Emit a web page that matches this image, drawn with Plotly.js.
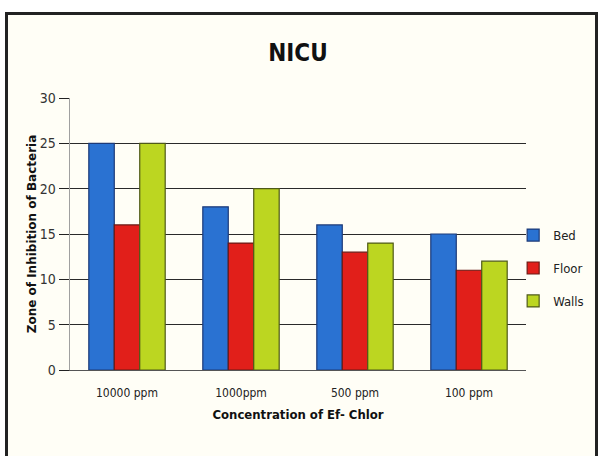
<!DOCTYPE html>
<html>
<head>
<meta charset="utf-8">
<script src="https://cdn.plot.ly/plotly-3.0.1.min.js"></script>
<style>
  html, body { margin: 0; padding: 0; background: #ffffff; width: 603px; height: 456px; overflow: hidden; }
  #frame { position: absolute; left: 5px; top: 12px; width: 593px; height: 460px; border: 3px solid #222; background: #fffef6; box-sizing: border-box; }
  #chart { position: absolute; left: 0; top: 0; width: 603px; height: 456px; }
</style>
</head>
<body>
<div id="frame"></div>
<div id="chart"></div>
<script>
const categories = ["10000 ppm", "1000ppm", "500 ppm", "100 ppm"];
const bedValues = [25, 18, 16, 15];
const floorValues = [16, 14, 13, 11];
const wallsValues = [25, 20, 14, 12];
const yTicks = [0, 5, 10, 15, 20, 25, 30];

const narrow = "DejaVu Sans Condensed, Liberation Sans Narrow, sans-serif";

function bar(name, vals, color, line) {
  return {
    type: "bar", name: name, x: categories, y: vals, legendgroup: name,
    marker: { color: color, line: { color: line, width: 1.2 } },
    hoverinfo: "none"
  };
}

const data = [
  bar("Bed", bedValues, "#2a72d2", "#1c3a78"),
  bar("Floor", floorValues, "#e11f1a", "#6a1a14"),
  bar("Walls", wallsValues, "#bcd621", "#4f5a18")
];

const layout = {
  width: 603, height: 456,
  margin: { l: 70, r: 77, t: 98, b: 86, autoexpand: false },
  paper_bgcolor: "rgba(0,0,0,0)",
  plot_bgcolor: "rgba(0,0,0,0)",
  barmode: "group", bargap: 0.33, bargroupgap: 0,
  showlegend: true,
  title: { text: "NICU", x: 0.5, xref: "paper", y: 0.885, yref: "container", yanchor: "middle",
           font: { family: narrow, size: 24, color: "#111", weight: "bold" } },
  xaxis: {
    type: "category",
    showline: true, linecolor: "#555", linewidth: 1,
    ticks: "", showgrid: false, zeroline: false,
    tickfont: { family: narrow, size: 12, color: "#222" },
    ticklabelstandoff: 12,
    title: { text: "Concentration of Ef- Chlor", standoff: 10,
             font: { family: narrow, size: 13, color: "#111", weight: "bold" } }
  },
  yaxis: {
    range: [0, 30], tickvals: yTicks, ticktext: yTicks.map(String),
    showline: true, linecolor: "#a0a0a0", linewidth: 1.5,
    ticks: "outside", ticklen: 10, tickcolor: "#222", tickwidth: 1,
    showgrid: true, gridcolor: "#2a2a2a", gridwidth: 1,
    zeroline: false,
    tickfont: { family: narrow, size: 14, color: "#333" },
    title: { text: "Zone of Inhibition of Bacteria", standoff: 0,
             font: { family: "DejaVu Sans, Verdana, sans-serif", size: 12, color: "#111", weight: "bold" } }
  },
  legend: {
    xref: "container", yref: "container",
    x: 0.851, xanchor: "left", y: 0.412, yanchor: "middle",
    font: { family: narrow, size: 13, color: "#222" },
    tracegroupgap: 13, itemwidth: 30, bgcolor: "rgba(0,0,0,0)"
  }
};

Plotly.newPlot("chart", data, layout, { displayModeBar: false, staticPlot: true });
</script>
</body>
</html>
